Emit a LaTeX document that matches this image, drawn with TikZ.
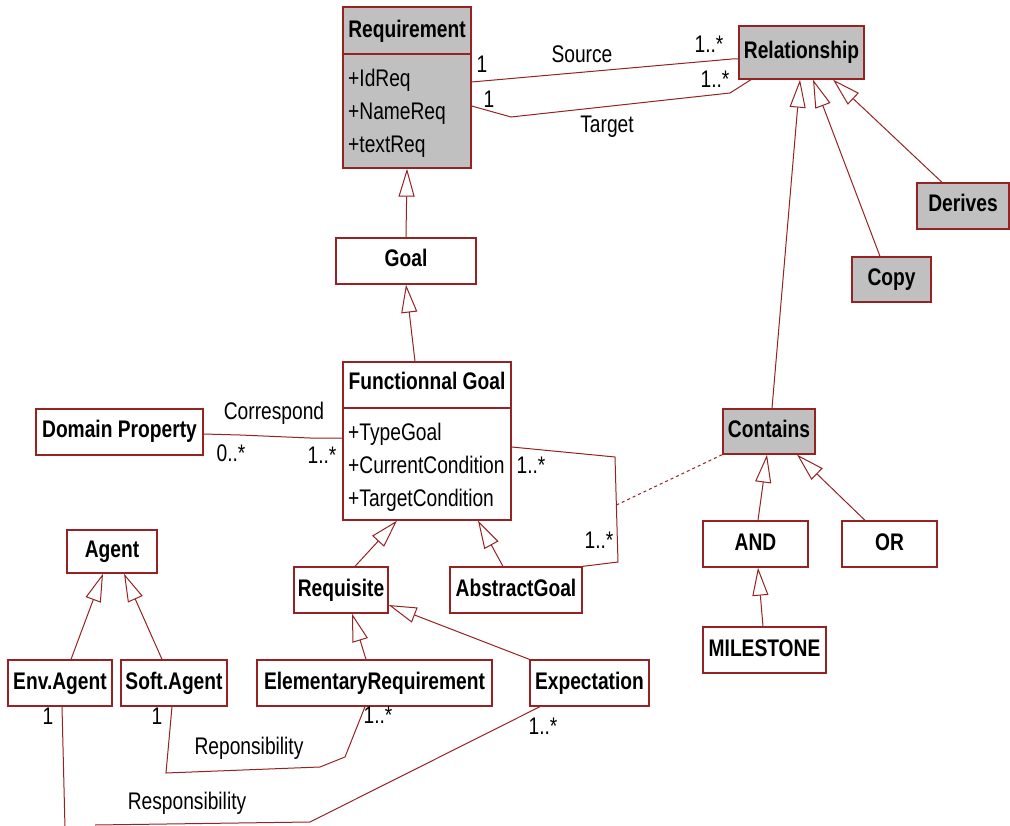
\documentclass[tikz,border=0pt]{standalone}
\usepackage{fontspec}
\setmainfont{Liberation Sans}[FakeStretch=0.8]
\usetikzlibrary{arrows.meta}
\definecolor{umlred}{RGB}{150,35,35}
\definecolor{umlgray}{RGB}{192,192,192}
\begin{document}
\begin{tikzpicture}[x=1pt,y=-1pt,
  cls/.style={draw=umlred, line width=1.3pt, fill=white, inner sep=0pt,
    font=\bfseries\fontsize{24}{28}\selectfont, text height=17pt, text depth=5pt,
    minimum height=46pt, anchor=center},
  abstr/.style={cls, fill=umlgray},
  link/.style={draw=umlred, line width=1pt},
  gen/.style={link, -{Triangle[open, length=28pt, width=16pt, fill=white]}},
  lbl/.style={font=\fontsize{24}{28}\selectfont, inner sep=0pt, text height=17pt, text depth=5pt},
  title/.style={lbl, font=\bfseries\fontsize{24}{28}\selectfont},
  attr/.style={font=\fontsize{24}{28}\selectfont, inner sep=0pt, anchor=base west},
  sep/.style={draw=umlred, line width=1.3pt},
]
\fill[white] (0,0) rectangle (1010,826);
\useasboundingbox (0,0) rectangle (1010,826);

% ---- classes with attributes ----
\node[abstr, minimum width=128pt, minimum height=161pt] (req) at (407,87.5) {};
\node[title] (reqt) at (407,32) {Requirement};
\draw[sep] (req.west |- 0,54) -- (req.east |- 0,54);
\node[attr] (reqa1) at (348,87) {+IdReq};
\node[attr] (reqa2) at (348,120) {+NameReq};
\node[attr] (reqa3) at (348,153) {+textReq};

\node[cls, minimum width=168pt, minimum height=158pt] (fg) at (427,441) {};
\node[title] (fgt) at (427,384) {Functionnal Goal};
\draw[sep] (fg.west |- 0,408) -- (fg.east |- 0,408);
\node[attr] (fga1) at (348,440) {+TypeGoal};
\node[attr] (fga2) at (348,473) {+CurrentCondition};
\node[attr] (fga3) at (348,506) {+TargetCondition};

% ---- simple classes ----
\node[abstr, minimum width=125pt, minimum height=53pt] (rel) at (801.5,52.5) {Relationship};
\node[abstr, minimum width=92pt] (der) at (963,206) {Derives};
\node[abstr, minimum width=79pt, minimum height=45pt] (copy) at (891.5,279.5) {Copy};
\node[cls, minimum width=140pt] (goal) at (406,261) {Goal};
\node[cls, minimum width=167pt] (dp) at (119.5,432) {Domain Property};
\node[abstr, minimum width=92pt, minimum height=45pt] (con) at (769,431.5) {Contains};
\node[cls, minimum width=105pt] (and) at (755.5,544) {AND};
\node[cls, minimum width=95pt] (or) at (889.5,544) {OR};
\node[cls, minimum width=123pt] (ms) at (764.5,650) {MILESTONE};
\node[cls, minimum width=90pt, minimum height=43pt] (agent) at (112,551.5) {Agent};
\node[cls, minimum width=94pt] (rq) at (341,590) {Requisite};
\node[cls, minimum width=132pt] (ag) at (516,590) {AbstractGoal};
\node[cls, minimum width=104pt] (env) at (60,683) {Env.Agent};
\node[cls, minimum width=106pt] (soft) at (174,683) {Soft.Agent};
\node[cls, minimum width=235pt] (er) at (374.5,683) {ElementaryRequirement};
\node[cls, minimum width=119pt] (exp) at (589.5,683) {Expectation};

% ---- generalizations ----
\draw[gen] (goal.north) -- (req.south);
\draw[gen] ([xshift=-12pt]fg.north) -- (goal.south);
\draw[gen] ([xshift=3pt]con.north) -- ([xshift=-1.5pt]rel.south);
\draw[gen] ([xshift=-11.5pt]copy.north) -- ([xshift=11.5pt]rel.south);
\draw[gen] ([xshift=-21pt]der.north) -- ([xshift=31.5pt]rel.south);
\draw[gen] ([xshift=2.5pt]and.north) -- ([xshift=-2pt]con.south);
\draw[gen] ([xshift=-24.5pt]or.north) -- ([xshift=28pt]con.south);
\draw[gen] ([xshift=-1.5pt]ms.north) -- ([xshift=2.5pt]and.south);
\draw[gen] ([xshift=11pt]env.north) -- ([xshift=-9pt]agent.south);
\draw[gen] ([xshift=-12pt]soft.north) -- ([xshift=12pt]agent.south);
\draw[gen] ([xshift=14pt]rq.north) -- ([xshift=-30pt]fg.south);
\draw[gen] ([xshift=-13pt]ag.north) -- ([xshift=51pt]fg.south);
\draw[gen] ([xshift=-8.5pt]er.north) -- ([xshift=11pt]rq.south);
\draw[gen] (exp.north west) -- ([yshift=-15pt]rq.east);

% ---- associations ----
\draw[link] ([yshift=5.5pt]req.east) -- (732,59) -- ([yshift=-6.5pt]rel.west);
\draw[link] ([yshift=-18.5pt]req.east) -- (511,117) -- (730,93) -- ([xshift=-50.5pt]rel.south);
\draw[link] ([yshift=-2pt]dp.east) -- (240,435) -- (310,438) -- ([yshift=3pt]fg.west);
\draw[link] ([yshift=-6pt]fg.east) -- (615,457) -- (618,562) -- (ag.north east);
\coordinate (assoc) at (616.4,505);
\draw[link, dash pattern=on 3pt off 3pt] (assoc) -- (con.south west);
\draw[link] ([xshift=-2pt]soft.south) -- (166,773) -- (320,767) -- (345,757) -- ([xshift=-9.5pt]er.south);
\coordinate (respend) at (95,825);
\coordinate (envend) at (65,828);
\draw[link] ([xshift=-49.5pt]exp.south) -- (310,822) -- (respend);
\draw[link] ([xshift=2pt]env.south) -- (envend);

% ---- association labels and multiplicities ----
\node[lbl] (l1) at (482,67) {1};
\node[lbl] (l2) at (582,57) {Source};
\node[lbl] (l3) at (709,47) {1..*};
\node[lbl] (l4) at (489,102) {1};
\node[lbl] (l5) at (715,82) {1..*};
\node[lbl] (l6) at (607,127) {Target};
\node[lbl] (l7) at (274,414) {Correspond};
\node[lbl] (l8) at (231,455) {0..*};
\node[lbl] (l9) at (322,457) {1..*};
\node[lbl] (l10) at (531,467) {1..*};
\node[lbl] (l11) at (599,542) {1..*};
\node[lbl] (l12) at (48,718) {1};
\node[lbl] (l13) at (157,718) {1};
\node[lbl] (l14) at (249,748) {Reponsibility};
\node[lbl] (l15) at (378,717) {1..*};
\node[lbl] (l16) at (187,803) {Responsibility};
\node[lbl] (l17) at (543,728) {1..*};
\end{tikzpicture}
\end{document}
